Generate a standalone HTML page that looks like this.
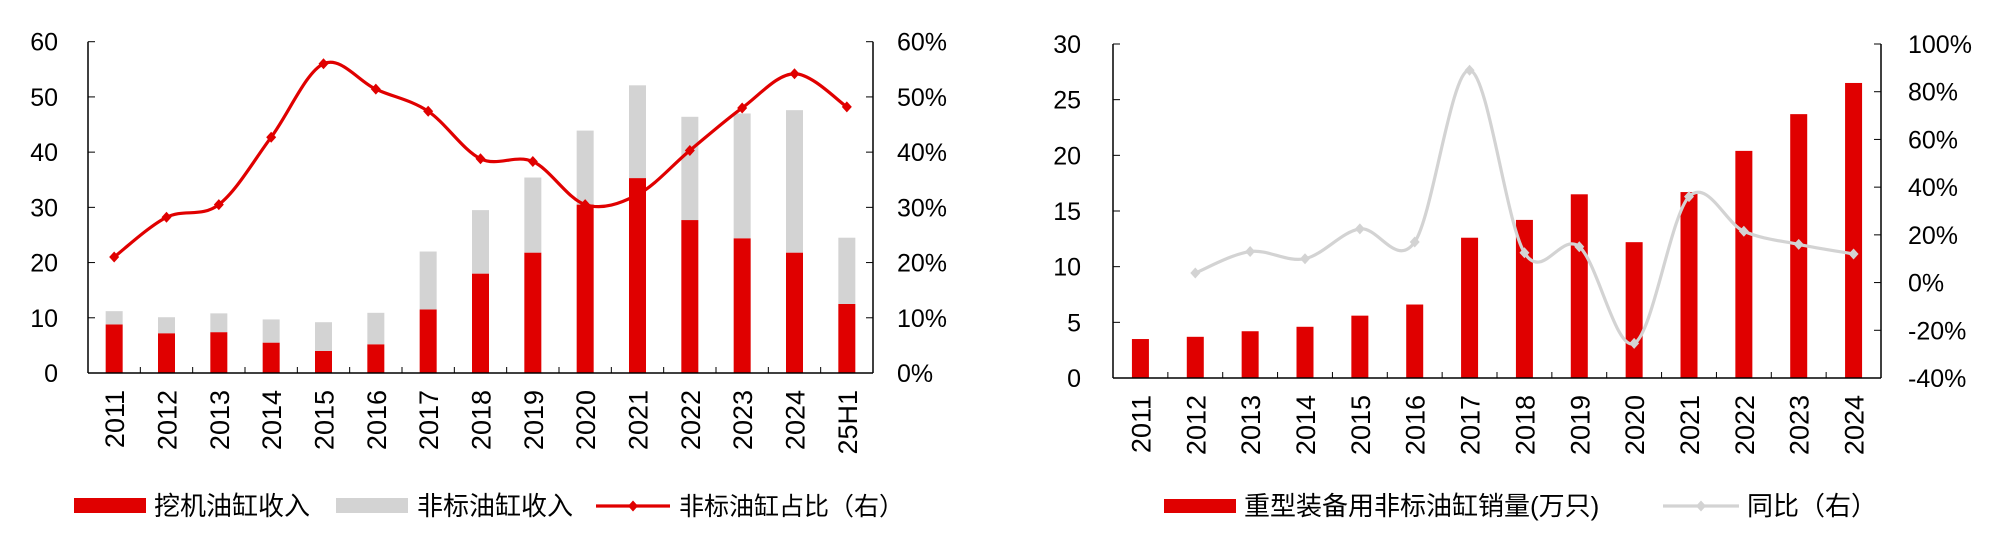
<!DOCTYPE html>
<html><head><meta charset="utf-8">
<style>
html,body{margin:0;padding:0;background:#fff;}
svg{display:block;font-family:"Liberation Sans","Noto Sans CJK SC",sans-serif;}
</style></head>
<body>
<svg id="c" width="1989" height="551" viewBox="0 0 1989 551" xmlns="http://www.w3.org/2000/svg"></svg>
<script>
// Left chart data
const catsL = ['2011','2012','2013','2014','2015','2016','2017','2018','2019','2020','2021','2022','2023','2024','25H1'];
const excavatorRev = [8.8,7.2,7.4,5.5,4.0,5.2,11.5,18.0,21.8,30.5,35.3,27.7,24.4,21.8,12.5];
const nonStdRev = [2.4,2.9,3.4,4.2,5.2,5.7,10.5,11.5,13.6,13.4,16.8,18.7,22.6,25.8,12.0];
const nonStdShare = [21,28.2,30.5,42.7,56,51.4,47.4,38.8,38.3,30.5,32.3,40.3,48,54.2,48.2];
const leftTicksL = [0,10,20,30,40,50,60];
const rightTicksL = ['0%','10%','20%','30%','40%','50%','60%'];
// Right chart data
const catsR = ['2011','2012','2013','2014','2015','2016','2017','2018','2019','2020','2021','2022','2023','2024'];
const heavySales = [3.5,3.7,4.2,4.6,5.6,6.6,12.6,14.2,16.5,12.2,16.7,20.4,23.7,26.5];
const yoy = [null,4,13,10,22.5,17,89,12.5,15,-25.5,36,21.5,16,12];
const leftTicksR = [0,5,10,15,20,25,30];
const rightTicksR = [-40,-20,0,20,40,60,80,100];

const svg = document.getElementById('c');
const NS = 'http://www.w3.org/2000/svg';
function mk(tag, attrs, parent){
  const e = document.createElementNS(NS, tag);
  for (const k in attrs) e.setAttribute(k, attrs[k]);
  (parent||svg).appendChild(e);
  return e;
}
function smoothPath(pts){
  let d = 'M'+pts[0][0]+','+pts[0][1];
  const t = 1/6;
  for (let i=0;i<pts.length-1;i++){
    const p0 = pts[i-1]||pts[i], p1=pts[i], p2=pts[i+1], p3=pts[i+2]||pts[i+1];
    const c1x = p1[0]+(p2[0]-p0[0])*t, c1y = p1[1]+(p2[1]-p0[1])*t;
    const c2x = p2[0]-(p3[0]-p1[0])*t, c2y = p2[1]-(p3[1]-p1[1])*t;
    d += ' C'+c1x+','+c1y+' '+c2x+','+c2y+' '+p2[0]+','+p2[1];
  }
  return d;
}

// ---------- LEFT CHART ----------
(function(){
  const x0=88, x1=873, yTop=41.7, yBot=373;
  const g = mk('g',{});
  
  
  const n = catsL.length, w=(x1-x0)/n;
  const yL = v => yBot-(v/60)*(yBot-yTop);
  const yR = v => yBot-(v/60)*(yBot-yTop);
  const cx = i => x0+w*(i+0.5);
  for (let i=0;i<n;i++){
    const r = mk('rect',{x:cx(i)-8.5,y:yL(excavatorRev[i]),width:17,height:yBot-yL(excavatorRev[i]),fill:'#e00000'},g);
    
    
    const top = excavatorRev[i]+nonStdRev[i];
    const r2 = mk('rect',{x:cx(i)-8.5,y:yL(top),width:17,height:yL(excavatorRev[i])-yL(top),fill:'#d3d3d3'},g);
    
    
  }
  mk('line',{x1:x0,y1:yTop,x2:x0,y2:yBot,stroke:'#000','stroke-width':1.5},g);
  mk('line',{x1:x1,y1:yTop,x2:x1,y2:yBot,stroke:'#000','stroke-width':1.5},g);
  mk('line',{x1:x0,y1:yBot,x2:x1,y2:yBot,stroke:'#000','stroke-width':1.5},g);
  for (let i=0;i<=n;i++) mk('line',{x1:x0+w*i,y1:yBot,x2:x0+w*i,y2:yBot-6,stroke:'#000','stroke-width':1},g);
  leftTicksL.forEach(v=>{
    mk('line',{x1:x0,y1:yL(v),x2:x0+7,y2:yL(v),stroke:'#000'},g);
    const t = mk('text',{x:58,y:yL(v)+9,'text-anchor':'end','font-size':25},g); t.textContent=v;
     
  });
  rightTicksL.forEach((s,i)=>{
    const v=i*10;
    mk('line',{x1:x1,y1:yR(v),x2:x1-7,y2:yR(v),stroke:'#000'},g);
    const t = mk('text',{x:897,y:yR(v)+9,'font-size':25},g); t.textContent=s;
     
  });
  catsL.forEach((c,i)=>{
    const t = mk('text',{x:0,y:0,'font-size':27,'text-anchor':'end',transform:'translate('+(cx(i)+10)+',390) rotate(-90)'},g);
    t.textContent=c;
     
  });
  const pts = nonStdShare.map((v,i)=>[cx(i),yR(v)]);
  const p = mk('path',{d:smoothPath(pts),fill:'none',stroke:'#e00000','stroke-width':3.2},g);
   
  pts.forEach(q=>{
    const m = mk('path',{d:'M'+q[0]+','+(q[1]-5.5)+' l5,5.5 l-5,5.5 l-5,-5.5z',fill:'#e00000'},g);
     
  });
  const l1 = mk('rect',{x:74,y:498,width:72,height:15,fill:'#e00000'},g);
   
  let t = mk('text',{x:154,y:515,'font-size':26},g); t.textContent='挖机油缸收入';
   
  const l2 = mk('rect',{x:336,y:498,width:72,height:15,fill:'#d3d3d3'},g);
   
  t = mk('text',{x:417,y:515,'font-size':26},g); t.textContent='非标油缸收入';
   
  mk('line',{x1:596,y1:506,x2:670,y2:506,stroke:'#e00000','stroke-width':3.2},g);
  mk('path',{d:'M633,500.5 l5,5.5 l-5,5.5 l-5,-5.5z',fill:'#e00000'},g);
  t = mk('text',{x:679,y:515,'font-size':25},g); t.textContent='非标油缸占比（右）';
   
})();

// ---------- RIGHT CHART ----------
(function(){
  const x0=1113, x1=1881, yTop=44, yBot=378;
  const g = mk('g',{});
  
  
  const n = catsR.length, w=(x1-x0)/n;
  const yL = v => yBot-(v/30)*(yBot-yTop);
  const yR = v => yBot-((v+40)/140)*(yBot-yTop);
  const cx = i => x0+w*(i+0.5);
  for (let i=0;i<n;i++){
    const r = mk('rect',{x:cx(i)-8.5,y:yL(heavySales[i]),width:17,height:yBot-yL(heavySales[i]),fill:'#e00000'},g);
    
    
  }
  mk('line',{x1:x0,y1:yTop,x2:x0,y2:yBot,stroke:'#000','stroke-width':1.5},g);
  mk('line',{x1:x1,y1:yTop,x2:x1,y2:yBot,stroke:'#000','stroke-width':1.5},g);
  mk('line',{x1:x0,y1:yBot,x2:x1,y2:yBot,stroke:'#000','stroke-width':1.5},g);
  for (let i=0;i<=n;i++) mk('line',{x1:x0+w*i,y1:yBot,x2:x0+w*i,y2:yBot-6,stroke:'#000','stroke-width':1},g);
  leftTicksR.forEach(v=>{
    mk('line',{x1:x0,y1:yL(v),x2:x0+7,y2:yL(v),stroke:'#000'},g);
    const t = mk('text',{x:1081,y:yL(v)+9,'text-anchor':'end','font-size':25},g); t.textContent=v;
     
  });
  rightTicksR.forEach(v=>{
    mk('line',{x1:x1,y1:yR(v),x2:x1-7,y2:yR(v),stroke:'#000'},g);
    const t = mk('text',{x:1908,y:yR(v)+9,'font-size':25},g); t.textContent=v+'%';
     
  });
  catsR.forEach((c,i)=>{
    const t = mk('text',{x:0,y:0,'font-size':27,'text-anchor':'end',transform:'translate('+(cx(i)+10)+',395) rotate(-90)'},g);
    t.textContent=c;
     
  });
  const pts = [];
  yoy.forEach((v,i)=>{ if(v!==null) pts.push([cx(i),yR(v)]); });
  const p = mk('path',{d:smoothPath(pts),fill:'none',stroke:'#d3d3d3','stroke-width':3.2},g);
   
  pts.forEach(q=>{
    const m = mk('path',{d:'M'+q[0]+','+(q[1]-5.5)+' l5,5.5 l-5,5.5 l-5,-5.5z',fill:'#d3d3d3'},g);
     
  });
  const l1 = mk('rect',{x:1164,y:499,width:72,height:14,fill:'#e00000'},g);
   
  let t = mk('text',{x:1244,y:515,'font-size':26},g); t.textContent='重型装备用非标油缸销量(万只)';
   
  mk('line',{x1:1663,y1:506,x2:1739,y2:506,stroke:'#d3d3d3','stroke-width':3.2},g);
  mk('path',{d:'M1701,500.5 l5,5.5 l-5,5.5 l-5,-5.5z',fill:'#d3d3d3'},g);
  t = mk('text',{x:1747,y:515,'font-size':26},g); t.textContent='同比（右）';
   
})();
</script>
</body></html>
